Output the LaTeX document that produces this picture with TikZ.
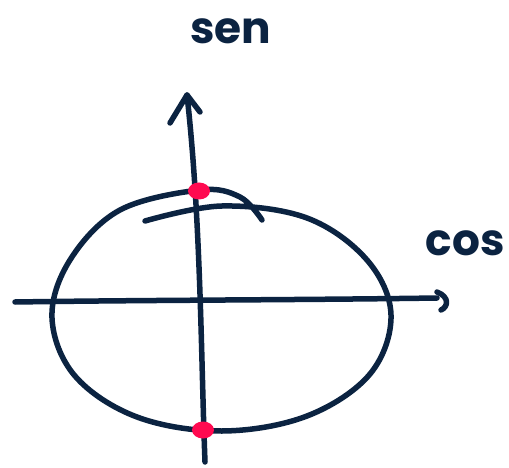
\documentclass[tikz,border=0pt]{standalone}
\usepackage{fontspec}
\setmainfont{Poppins}
\usetikzlibrary{shapes.geometric}
\definecolor{ink}{HTML}{0B2341}
\definecolor{dotred}{HTML}{FF0A50}
\begin{document}
\begin{tikzpicture}[x=1bp,y=-1bp,
  stroke/.style={draw=ink,line width=5.5bp,line cap=round,line join=round},
  redot/.style={ellipse,fill=dotred,minimum width=22bp,minimum height=17bp,inner sep=0pt},
  lbl/.style={text=ink,font=\fontsize{44}{44}\selectfont\bfseries,inner sep=0pt}]
\useasboundingbox (0,0) rectangle (509,468);
% ellipse (hand drawn, overlapping start/end at top)
\draw[stroke] plot[smooth,tension=0.6] coordinates {(145,221) (222,206) (307,218) (367,260) (391,315) (370,374) (307,416) (222,431) (137,417) (75,376) (52,318) (70,260) (120,210) (200,190) (240,197) (262,220)};
% axes coordinates
\coordinate (hl) at (15,302);
\coordinate (hr) at (437,298);
\coordinate (vb) at (205,462);
\coordinate (vt) at (187,95);
\draw[stroke] (hl) .. controls (150,300) and (300,300) .. (hr);
\draw[stroke] (vb) .. controls (201,360) and (201,220) .. (vt);
% arrowheads
\draw[stroke] (170,123) -- (vt) -- (200,112);
\draw[stroke] (437,292) .. controls (450,297) and (448,307) .. (441,310);
% dots
\node[redot] (d1) at (199,191) {};
\node[redot] (d2) at (203,430) {};
% labels
\node[lbl] (sen) at (231,31) {sen};
\node[lbl] (cos) at (465,243) {cos};
\end{tikzpicture}
\end{document}
